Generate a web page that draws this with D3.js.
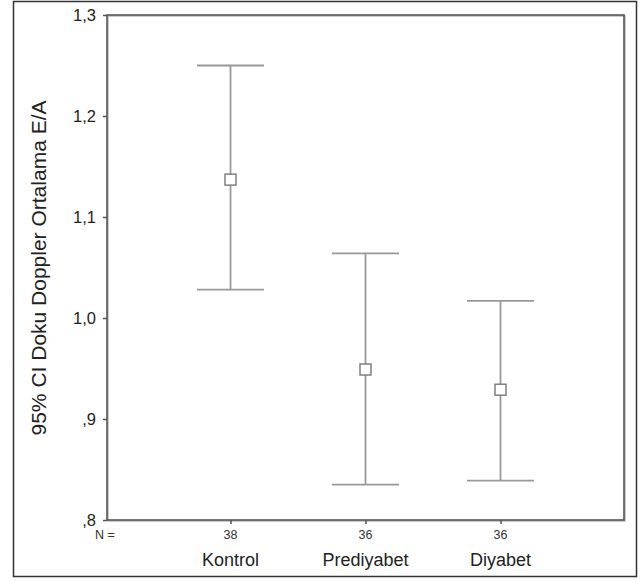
<!DOCTYPE html>
<html>
<head>
<meta charset="utf-8">
<script src="https://cdn.jsdelivr.net/npm/d3@7"></script>
<style>
  html, body { margin: 0; padding: 0; background: #fff; }
  svg { display: block; font-family: "Liberation Sans", Arial, sans-serif; }
</style>
</head>
<body>
<svg id="chart" width="644" height="581"></svg>
<script>
// Group names, sample sizes and 95% CI of tissue Doppler mean E/A
const categories = ["Kontrol", "Prediyabet", "Diyabet"];
const counts = [38, 36, 36];
const means = [1.137, 0.949, 0.929];
const lower = [1.028, 0.835, 0.839];
const upper = [1.250, 1.064, 1.017];
const yTicks = [0.8, 0.9, 1.0, 1.1, 1.2, 1.3];

const data = categories.map((c, i) => ({
  cat: c, n: counts[i], mean: means[i], lo: lower[i], hi: upper[i]
}));

const svg = d3.select("#chart");
const plot = { left: 107, right: 624, top: 15, bottom: 520 };

const x = d3.scalePoint()
  .domain(categories)
  .range([plot.left, plot.right])
  .padding(0.915);

const y = d3.scaleLinear()
  .domain([0.8, 1.3])
  .range([plot.bottom, plot.top]);

// outer frame
svg.append("rect")
  .attr("x", 13.5).attr("y", 1.5)
  .attr("width", 623).attr("height", 575)
  .attr("fill", "none").attr("stroke", "#333").attr("stroke-width", 1.5);

// plot frame (light shadow + dark line)
svg.append("rect")
  .attr("x", plot.left + 1).attr("y", plot.top + 1)
  .attr("width", plot.right - plot.left).attr("height", plot.bottom - plot.top)
  .attr("fill", "none").attr("stroke", "#bbb").attr("stroke-width", 1.5);
svg.append("rect")
  .attr("x", plot.left).attr("y", plot.top)
  .attr("width", plot.right - plot.left).attr("height", plot.bottom - plot.top)
  .attr("fill", "none").attr("stroke", "#555").attr("stroke-width", 1.6);

// y axis
const fmt = v => {
  const s = d3.format(".1f")(v).replace(".", ",");
  return s.startsWith("0") ? s.slice(1) : s;
};
const yAxis = svg.append("g")
  .attr("transform", `translate(${plot.left},0)`)
  .call(d3.axisLeft(y).tickValues(yTicks).tickFormat(fmt).tickSize(4).tickPadding(7));
yAxis.select(".domain").remove();
yAxis.selectAll(".tick line").attr("stroke", "#555").attr("stroke-width", 1.5);
yAxis.selectAll(".tick text")
  .attr("fill", "#222").attr("font-size", 16.5)
  .attr("font-family", "Liberation Sans, Arial, sans-serif");

// x axis ticks
const xAxis = svg.append("g")
  .attr("transform", `translate(0,${plot.bottom})`)
  .call(d3.axisBottom(x).tickSize(4).tickFormat(""));
xAxis.select(".domain").remove();
xAxis.selectAll(".tick line").attr("stroke", "#555").attr("stroke-width", 1.5);

// N row
svg.append("text")
  .attr("x", 95).attr("y", 539)
  .attr("font-size", 12.5).attr("fill", "#333")
  .text("N =");
svg.selectAll("text.count")
  .data(data).join("text")
  .attr("class", "count")
  .attr("x", d => x(d.cat)).attr("y", 539)
  .attr("text-anchor", "middle")
  .attr("font-size", 12.5).attr("fill", "#333")
  .text(d => d.n);

// category labels
svg.selectAll("text.cat")
  .data(data).join("text")
  .attr("class", "cat")
  .attr("x", d => x(d.cat)).attr("y", 566)
  .attr("text-anchor", "middle")
  .attr("font-size", 18).attr("fill", "#222")
  .text(d => d.cat);

// y axis title
svg.append("text")
  .attr("transform", `translate(46,${268}) rotate(-90)`)
  .attr("text-anchor", "middle")
  .attr("font-size", 21).attr("fill", "#222")
  .text("95% CI Doku Doppler Ortalama E/A");

// error bars
const capHalf = 33.5;
const bars = svg.append("g").selectAll("g")
  .data(data).join("g");

bars.append("line")
  .attr("x1", d => x(d.cat)).attr("x2", d => x(d.cat))
  .attr("y1", d => y(d.hi)).attr("y2", d => y(d.lo))
  .attr("stroke", "#999").attr("stroke-width", 1.8);
bars.append("line")
  .attr("x1", d => x(d.cat) - capHalf).attr("x2", d => x(d.cat) + capHalf)
  .attr("y1", d => y(d.hi)).attr("y2", d => y(d.hi))
  .attr("stroke", "#999").attr("stroke-width", 1.8);
bars.append("line")
  .attr("x1", d => x(d.cat) - capHalf).attr("x2", d => x(d.cat) + capHalf)
  .attr("y1", d => y(d.lo)).attr("y2", d => y(d.lo))
  .attr("stroke", "#999").attr("stroke-width", 1.8);
bars.append("rect")
  .attr("x", d => x(d.cat) - 5.5).attr("y", d => y(d.mean) - 5.5)
  .attr("width", 11).attr("height", 11)
  .attr("fill", "#fff").attr("stroke", "#777").attr("stroke-width", 1.4);
</script>
</body>
</html>
